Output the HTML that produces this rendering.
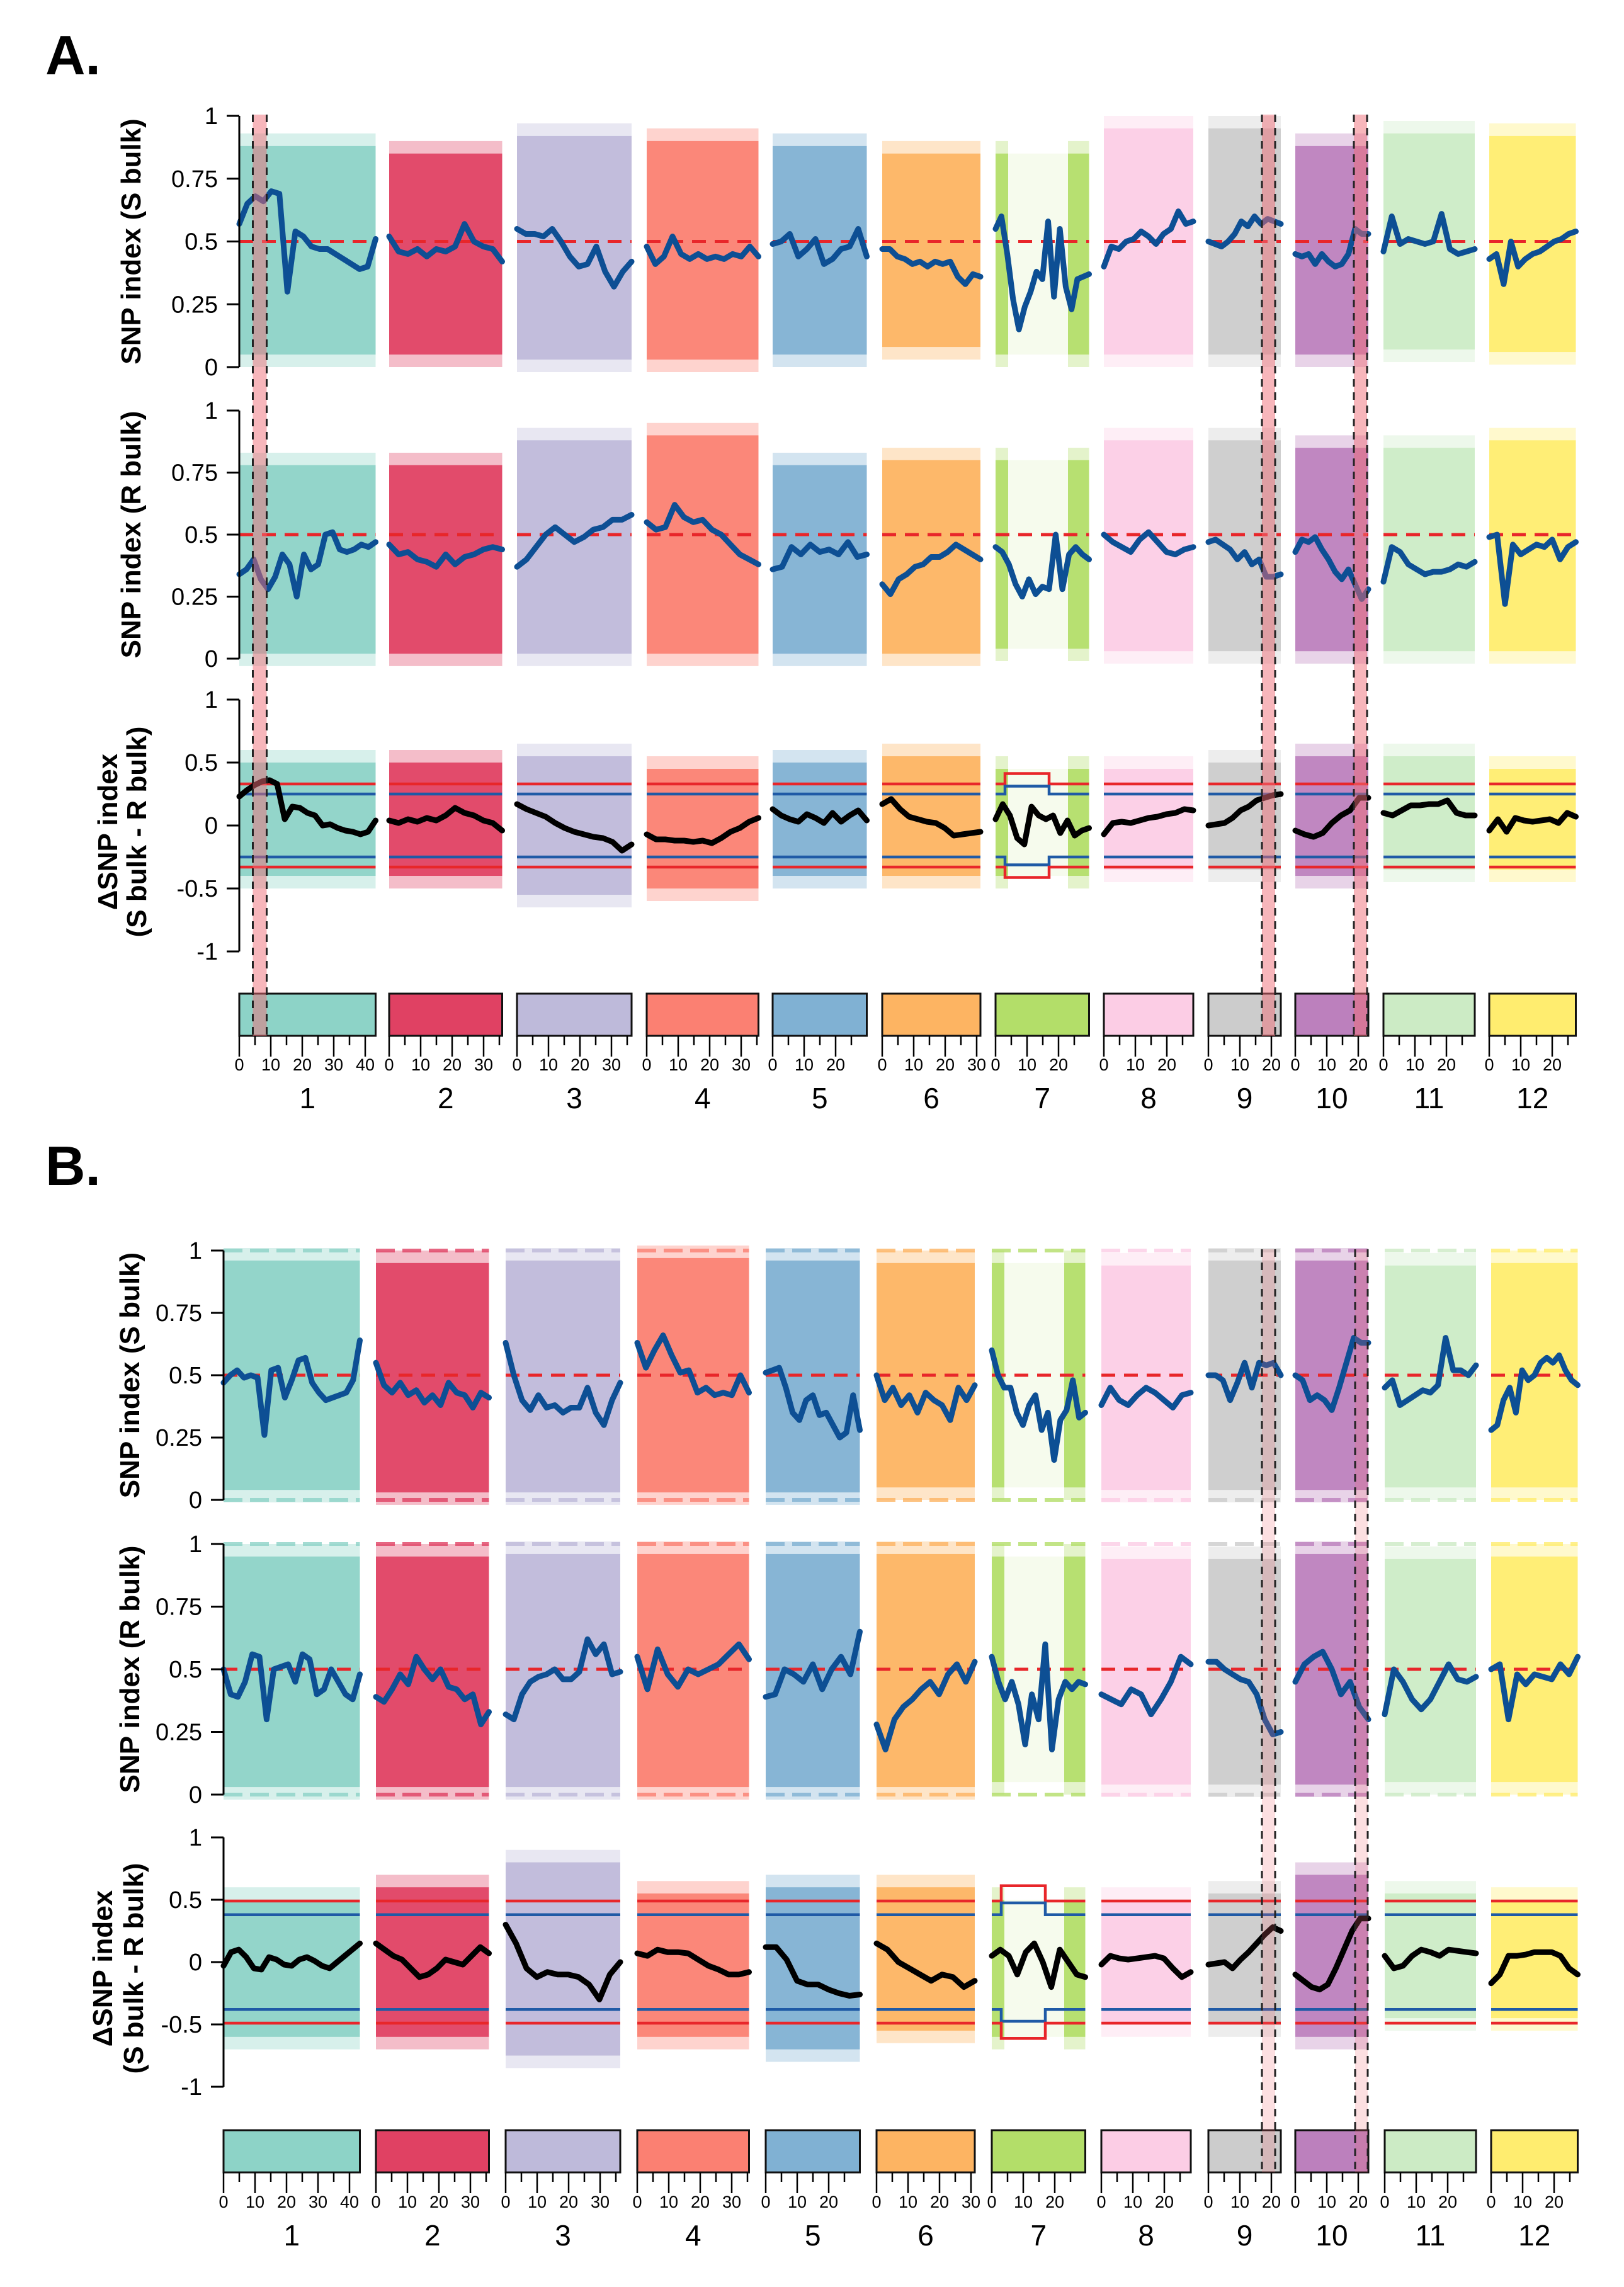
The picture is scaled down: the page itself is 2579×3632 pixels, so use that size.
<!DOCTYPE html>
<html><head><meta charset="utf-8"><title>SNP index plots</title>
<style>
html,body{margin:0;padding:0;background:#fff;}
svg{display:block;font-family:"Liberation Sans",Arial,sans-serif;}
</style></head>
<body>
<svg id="fig" xmlns="http://www.w3.org/2000/svg" width="2579" height="3632" viewBox="0 0 2579 3632">
<rect width="2579" height="3632" fill="#fff"/>
<text x="72" y="118" font-size="88" font-weight="bold">A.</text>
<text x="72" y="1882" font-size="88" font-weight="bold">B.</text>
<g id="root"></g>
</svg>
<script>
// ---- data ----
const chromNames = ['1','2','3','4','5','6','7','8','9','10','11','12'];
const chromLen = [43.3,35.9,36.4,35.5,29.9,31.2,29.7,28.4,23.0,23.2,29.0,27.5];
const chromColors = ['#8dd3c7','#e04163','#bebada','#fb8072','#80b1d3','#fdb462','#b3de69','#fccde5','#cccccc','#bc80bd','#ccebc5','#ffed6f'];
const sizeTicks = [0,10,20,30,40];
const snpTicks = ['0','0.25','0.5','0.75','1'];
const snpTickVals = [0,0.25,0.5,0.75,1];
const deltaTicks = ['-1','-0.5','0','0.5','1'];
const deltaTickVals = [-1,-0.5,0,0.5,1];
const chr7Gap = [4,23];

const aS = [
[0.57,0.65,0.68,0.66,0.70,0.69,0.30,0.54,0.52,0.48,0.47,0.47,0.45,0.43,0.41,0.39,0.40,0.51],
[0.52,0.46,0.45,0.47,0.44,0.47,0.46,0.48,0.57,0.50,0.48,0.47,0.42],
[0.55,0.53,0.53,0.52,0.55,0.50,0.44,0.40,0.41,0.48,0.38,0.32,0.38,0.42],
[0.48,0.41,0.44,0.52,0.45,0.43,0.45,0.43,0.44,0.43,0.45,0.44,0.48,0.44],
[0.49,0.50,0.53,0.44,0.47,0.51,0.41,0.43,0.47,0.48,0.55,0.44],
[0.47,0.47,0.44,0.43,0.41,0.42,0.40,0.42,0.41,0.42,0.36,0.33,0.37,0.36],
[0.55,0.60,0.45,0.27,0.15,0.24,0.30,0.38,0.35,0.58,0.28,0.55,0.32,0.23,0.35,0.36,0.37],
[0.40,0.48,0.47,0.50,0.51,0.54,0.52,0.49,0.53,0.55,0.62,0.57,0.58],
[0.50,0.49,0.48,0.50,0.53,0.58,0.56,0.60,0.57,0.59,0.58,0.57],
[0.45,0.44,0.45,0.41,0.45,0.42,0.40,0.41,0.45,0.55,0.53,0.53],
[0.46,0.60,0.49,0.51,0.50,0.49,0.50,0.61,0.47,0.45,0.46,0.47],
[0.43,0.45,0.33,0.50,0.40,0.43,0.45,0.46,0.48,0.50,0.51,0.53,0.54]];
const aR = [
[0.34,0.36,0.40,0.32,0.28,0.33,0.42,0.38,0.25,0.42,0.36,0.38,0.50,0.51,0.44,0.43,0.44,0.46,0.45,0.47],
[0.46,0.42,0.43,0.40,0.39,0.37,0.42,0.38,0.41,0.42,0.44,0.45,0.44],
[0.37,0.40,0.45,0.50,0.53,0.50,0.47,0.49,0.52,0.53,0.56,0.56,0.58],
[0.55,0.52,0.53,0.62,0.57,0.55,0.56,0.52,0.50,0.46,0.42,0.40,0.38],
[0.36,0.37,0.45,0.42,0.46,0.43,0.44,0.42,0.47,0.41,0.42],
[0.30,0.26,0.32,0.34,0.37,0.38,0.41,0.41,0.43,0.46,0.44,0.42,0.40],
[0.45,0.43,0.38,0.30,0.25,0.32,0.26,0.29,0.28,0.50,0.28,0.42,0.45,0.42,0.40],
[0.50,0.47,0.45,0.43,0.48,0.51,0.47,0.43,0.42,0.44,0.45],
[0.47,0.48,0.46,0.44,0.40,0.43,0.38,0.40,0.33,0.33,0.34],
[0.43,0.48,0.47,0.49,0.44,0.40,0.35,0.32,0.36,0.30,0.24,0.28],
[0.31,0.45,0.43,0.38,0.36,0.34,0.35,0.35,0.36,0.38,0.37,0.39],
[0.49,0.50,0.22,0.46,0.42,0.44,0.46,0.45,0.48,0.40,0.45,0.47]];
const aD = [
[0.23,0.28,0.32,0.35,0.36,0.33,0.05,0.15,0.14,0.10,0.08,0.00,0.01,-0.02,-0.04,-0.05,-0.07,-0.05,0.04],
[0.04,0.02,0.05,0.03,0.06,0.04,0.08,0.14,0.10,0.08,0.04,0.02,-0.04],
[0.17,0.13,0.10,0.07,0.02,-0.02,-0.05,-0.07,-0.09,-0.10,-0.13,-0.20,-0.15],
[-0.07,-0.11,-0.11,-0.12,-0.12,-0.13,-0.12,-0.14,-0.10,-0.05,-0.02,0.03,0.06],
[0.13,0.08,0.05,0.03,0.09,0.06,0.02,0.10,0.03,0.08,0.12,0.04],
[0.17,0.21,0.13,0.07,0.05,0.03,0.02,-0.02,-0.08,-0.07,-0.06,-0.05],
[0.05,0.17,0.08,-0.10,-0.15,0.15,0.08,0.05,0.08,-0.06,0.04,-0.08,-0.04,-0.02],
[-0.07,0.02,0.03,0.02,0.04,0.06,0.07,0.09,0.10,0.13,0.12],
[0.00,0.01,0.02,0.06,0.12,0.15,0.20,0.22,0.24,0.25],
[-0.04,-0.07,-0.09,-0.06,0.02,0.08,0.12,0.22,0.22],
[0.10,0.08,0.12,0.16,0.16,0.17,0.17,0.20,0.10,0.08,0.08],
[-0.04,0.05,-0.05,0.06,0.04,0.03,0.04,0.05,0.02,0.10,0.07]];
const bS = [
[0.47,0.50,0.52,0.49,0.50,0.49,0.26,0.52,0.53,0.41,0.48,0.56,0.57,0.47,0.43,0.40,0.41,0.42,0.43,0.48,0.64],
[0.55,0.46,0.43,0.47,0.42,0.44,0.39,0.42,0.38,0.47,0.43,0.42,0.37,0.43,0.41],
[0.63,0.50,0.40,0.36,0.42,0.37,0.38,0.35,0.37,0.37,0.45,0.35,0.30,0.40,0.47],
[0.63,0.53,0.60,0.66,0.58,0.51,0.52,0.43,0.45,0.42,0.43,0.42,0.50,0.43],
[0.51,0.52,0.53,0.45,0.35,0.32,0.40,0.42,0.34,0.35,0.30,0.25,0.27,0.42,0.28],
[0.50,0.40,0.45,0.38,0.42,0.35,0.43,0.40,0.38,0.32,0.45,0.40,0.46],
[0.60,0.50,0.45,0.45,0.35,0.30,0.38,0.42,0.28,0.35,0.16,0.32,0.36,0.48,0.33,0.35],
[0.38,0.45,0.40,0.38,0.42,0.45,0.43,0.40,0.37,0.42,0.43],
[0.50,0.50,0.48,0.40,0.47,0.55,0.45,0.55,0.54,0.55,0.50],
[0.50,0.48,0.40,0.42,0.40,0.36,0.45,0.55,0.65,0.63,0.63],
[0.45,0.48,0.38,0.40,0.42,0.44,0.43,0.46,0.65,0.52,0.52,0.50,0.54],
[0.28,0.30,0.40,0.45,0.35,0.52,0.48,0.50,0.55,0.57,0.55,0.58,0.52,0.48,0.46]];
const bR = [
[0.50,0.40,0.39,0.45,0.56,0.55,0.30,0.50,0.51,0.52,0.45,0.56,0.54,0.40,0.42,0.50,0.45,0.40,0.38,0.48],
[0.39,0.37,0.42,0.48,0.44,0.55,0.50,0.46,0.50,0.43,0.42,0.38,0.40,0.28,0.33],
[0.32,0.30,0.40,0.45,0.47,0.48,0.50,0.46,0.46,0.49,0.62,0.56,0.60,0.48,0.49],
[0.55,0.42,0.58,0.48,0.43,0.50,0.48,0.50,0.52,0.56,0.60,0.54],
[0.39,0.40,0.50,0.48,0.45,0.52,0.42,0.50,0.55,0.48,0.65],
[0.28,0.18,0.30,0.35,0.38,0.42,0.45,0.40,0.48,0.52,0.45,0.53],
[0.55,0.45,0.38,0.45,0.36,0.20,0.40,0.30,0.60,0.18,0.38,0.45,0.42,0.45,0.44],
[0.40,0.38,0.36,0.42,0.40,0.32,0.38,0.45,0.55,0.52],
[0.53,0.53,0.50,0.48,0.46,0.45,0.40,0.30,0.24,0.25],
[0.45,0.52,0.55,0.57,0.50,0.40,0.45,0.35,0.30],
[0.32,0.50,0.45,0.38,0.34,0.38,0.45,0.52,0.46,0.45,0.47],
[0.50,0.52,0.30,0.48,0.44,0.48,0.47,0.46,0.52,0.48,0.55]];
const bD = [
[-0.03,0.08,0.10,0.04,-0.05,-0.06,0.04,0.02,-0.02,-0.03,0.02,0.04,0.01,-0.03,-0.05,0.00,0.05,0.10,0.15],
[0.15,0.10,0.05,0.02,-0.05,-0.12,-0.10,-0.05,0.02,0.00,-0.02,0.05,0.12,0.07],
[0.30,0.15,-0.05,-0.12,-0.08,-0.10,-0.10,-0.12,-0.18,-0.30,-0.10,0.00],
[0.07,0.05,0.10,0.08,0.08,0.07,0.02,-0.03,-0.06,-0.10,-0.10,-0.08],
[0.12,0.12,0.02,-0.15,-0.18,-0.18,-0.22,-0.25,-0.27,-0.26],
[0.15,0.10,0.00,-0.05,-0.10,-0.15,-0.10,-0.12,-0.20,-0.15],
[0.05,0.10,0.05,-0.10,0.08,0.15,0.00,-0.20,0.10,0.00,-0.10,-0.12],
[-0.02,0.05,0.03,0.02,0.03,0.04,0.05,0.03,-0.05,-0.12,-0.08],
[-0.02,-0.01,0.00,-0.05,0.02,0.08,0.15,0.22,0.28,0.25],
[-0.10,-0.15,-0.20,-0.22,-0.18,-0.05,0.10,0.25,0.35,0.35],
[0.05,-0.05,-0.03,0.05,0.10,0.08,0.05,0.10,0.09,0.08,0.07],
[-0.17,-0.10,0.05,0.05,0.06,0.08,0.08,0.08,0.05,-0.05,-0.10]];

const aSTop = [0.88,0.85,0.92,0.90,0.88,0.85,0.85,0.95,0.95,0.88,0.93,0.92];
const aSBot = [0.05,0.05,0.03,0.03,0.05,0.08,0.05,0.05,0.05,0.05,0.07,0.06];
const aRTop = [0.78,0.78,0.88,0.90,0.78,0.80,0.80,0.88,0.88,0.85,0.85,0.88];
const aRBot = [0.02,0.02,0.02,0.02,0.02,0.02,0.04,0.03,0.03,0.03,0.03,0.03];
const aDTop = [0.50,0.50,0.55,0.45,0.50,0.55,0.45,0.45,0.50,0.55,0.55,0.45];
const aDBot = [-0.40,-0.40,-0.55,-0.50,-0.40,-0.40,-0.40,-0.35,-0.35,-0.40,-0.35,-0.35];
const bSTop = [0.96,0.95,0.96,0.97,0.96,0.95,0.95,0.94,0.96,0.96,0.94,0.95];
const bSBot = [0.04,0.03,0.03,0.03,0.03,0.05,0.05,0.04,0.04,0.04,0.05,0.05];
const bRTop = [0.95,0.95,0.96,0.96,0.96,0.96,0.95,0.94,0.94,0.96,0.94,0.95];
const bRBot = [0.03,0.03,0.03,0.03,0.03,0.03,0.05,0.04,0.04,0.04,0.05,0.05];
const bDTop = [0.50,0.60,0.80,0.55,0.60,0.60,0.50,0.50,0.55,0.70,0.55,0.50];
const bDBot = [-0.60,-0.60,-0.75,-0.60,-0.70,-0.55,-0.60,-0.50,-0.50,-0.60,-0.45,-0.45];

const aThrRed = 0.33, aThrBlue = 0.25;
const bThrRed = 0.49, bThrBlue = 0.38;
const chr7ThrBoost = 1.25;

const aHighlights = [[0,4.3,8.7],[8,17.0,21.2],[9,18.6,22.8]];
const bHighlights = [[8,17.0,21.2],[9,19.0,23.0]];

// ---- layout ----
const NS = 'http://www.w3.org/2000/svg';
const root = document.getElementById('root');
const PXMB = 5.0;
function mk(tag, attrs, parent){
  const e = document.createElementNS(NS, tag);
  for (const k in attrs) e.setAttribute(k, attrs[k]);
  (parent||root).appendChild(e);
  return e;
}

const layouts = [
 {key:'a', axisX:380, starts:[380,618,821,1027,1227,1401,1581,1753,1919,2057,2197,2365],
  panels:[[184,583],[652,1046],[1111,1511]], box:[1578,1645], tickLab:1700, num:1760,
  S:aS,R:aR,D:aD, tops:[aSTop,aRTop,aDTop], bots:[aSBot,aRBot,aDBot], red:aThrRed, blue:aThrBlue,
  hl:aHighlights, hlTop:182, hlFill:'rgba(240,110,120,0.5)', titleX:[207,207,170,216], edgeRows:false},
 {key:'b', axisX:355, starts:[355,597,803,1012,1216,1392,1575,1749,1919,2057,2199,2368],
  panels:[[1986,2382],[2452,2850],[2918,3314]], box:[3383,3450], tickLab:3506, num:3566,
  S:bS,R:bR,D:bD, tops:[bSTop,bRTop,bDTop], bots:[bSBot,bRBot,bDBot], red:bThrRed, blue:bThrBlue,
  hl:bHighlights, hlTop:1984, hlFill:'rgba(240,110,120,0.22)', titleX:[205,205,162,211], edgeRows:true}
];

layouts.forEach(L=>{
  const g = mk('g',{});
  
  
  const ranges = [[0,1],[0,1],[-1,1]];
  const series = [L.S, L.R, L.D];
  const names = ['s-bulk','r-bulk','delta'];
  L.panels.forEach((P,pi)=>{
    const [yTopPx,yBotPx] = P; const [lo,hi] = ranges[pi];
    const yv = v => yBotPx - (v-lo)/(hi-lo)*(yBotPx-yTopPx);
    const pg = mk('g',{},g);
    
    
    chromLen.forEach((len,ci)=>{
      const x0 = L.starts[ci], x1 = x0+len*PXMB;
      const top = yv(L.tops[pi][ci]), bot = yv(L.bots[pi][ci]);
      const fringe = (yBotPx-yTopPx)*0.05;
      const segs = ci===6 ? [[0,chr7Gap[0]],[chr7Gap[1],len]] : [[0,len]];
      segs.forEach(s=>{
        const fr = mk('rect',{x:x0+s[0]*PXMB, y:top-fringe, width:(s[1]-s[0])*PXMB, height:bot-top+2*fringe, fill:chromColors[ci], opacity:0.35},pg);
        
        
        const r = mk('rect',{x:x0+s[0]*PXMB, y:top, width:(s[1]-s[0])*PXMB, height:bot-top, fill:chromColors[ci], opacity:0.92},pg);
        
        
      });
      if (ci===6){
        const r = mk('rect',{x:x0+chr7Gap[0]*PXMB, y:top, width:(chr7Gap[1]-chr7Gap[0])*PXMB, height:bot-top, fill:chromColors[ci], opacity:0.12},pg);
        
        
      }
      if (L.edgeRows && pi<2){
        [0,1].forEach(v=>{
          const er = mk('line',{x1:x0,x2:x1,y1:yv(v),y2:yv(v),stroke:chromColors[ci],'stroke-width':6,'stroke-dasharray':'30 12',opacity:0.8},pg);
          
          
        });
      }
      if (pi<2){
        const d = mk('line',{x1:x0,x2:x1,y1:yv(0.5),y2:yv(0.5),stroke:'#e8262a','stroke-width':5,'stroke-dasharray':'22 14'},pg);
        
        
      } else {
        [[L.red,'#e8262a'],[L.blue,'#1f5aa6'],[-L.blue,'#1f5aa6'],[-L.red,'#e8262a']].forEach(([t,c])=>{
          let pts;
          if (ci===6){
            const a=x0+3*PXMB, b=x0+17*PXMB;
            pts = [[x0,t],[a,t],[a,t*chr7ThrBoost],[b,t*chr7ThrBoost],[b,t],[x1,t]];
          } else pts=[[x0,t],[x1,t]];
          const th = mk('polyline',{points:pts.map(p=>p[0]+','+yv(p[1])).join(' '),fill:'none',stroke:c,'stroke-width':4.5},pg);
          
          
        });
      }
      const vals = series[pi][ci];
      const pts = vals.map((v,i)=> (x0 + i/(vals.length-1)*len*PXMB).toFixed(1)+','+yv(v).toFixed(1)).join(' ');
      const ln = mk('polyline',{points:pts,fill:'none',stroke:pi<2?'#0d4f94':'#000','stroke-width':9,'stroke-linejoin':'round','stroke-linecap':'round'},pg);
      
      
    });
    const ax = mk('line',{x1:L.axisX,x2:L.axisX,y1:yTopPx,y2:yBotPx,stroke:'#000','stroke-width':3},pg);
    
    
    const tv = pi<2?snpTickVals:deltaTickVals, tl = pi<2?snpTicks:deltaTicks;
    tv.forEach((v,i)=>{
      const t = mk('line',{x1:L.axisX-20,x2:L.axisX,y1:yv(v),y2:yv(v),stroke:'#000','stroke-width':3},pg);
      
      
      const tx = mk('text',{x:L.axisX-34,y:yv(v)+13,'text-anchor':'end','font-size':38},pg);
      
      
      tx.textContent = tl[i];
    });
    const cy = (yTopPx+yBotPx)/2;
    if (pi<2){
      const tt = mk('text',{x:0,y:0,transform:`translate(${L.titleX[pi]+16},${cy}) rotate(-90)`,'text-anchor':'middle','font-size':44,'font-weight':'bold'},pg);
      
      
      tt.textContent = pi===0?'SNP index (S bulk)':'SNP index (R bulk)';
    } else {
      const t1 = mk('text',{x:0,y:0,transform:`translate(${L.titleX[2]+16},${cy+10}) rotate(-90)`,'text-anchor':'middle','font-size':44,'font-weight':'bold'},pg);
      
      
      t1.textContent = '\u0394SNP index';
      const t2 = mk('text',{x:0,y:0,transform:`translate(${L.titleX[3]+16},${cy+10}) rotate(-90)`,'text-anchor':'middle','font-size':44,'font-weight':'bold'},pg);
      
      
      t2.textContent = '(S bulk - R bulk)';
    }
  });
  chromLen.forEach((len,ci)=>{
    const x0=L.starts[ci], w=len*PXMB;
    const b = mk('rect',{x:x0,y:L.box[0],width:w,height:L.box[1]-L.box[0],fill:chromColors[ci],stroke:'#111','stroke-width':3},g);
    
    
    for (let m=0;m<=len;m+=5){
      const major = m%10===0;
      const t = mk('line',{x1:x0+m*PXMB,x2:x0+m*PXMB,y1:L.box[1],y2:L.box[1]+(major?33:15),stroke:'#000','stroke-width':2.5},g);
      
      
    }
    sizeTicks.filter(v=>v<=len).forEach(v=>{
      const tx = mk('text',{x:x0+v*PXMB,y:L.tickLab,'text-anchor':'middle','font-size':27},g);
      
      
      tx.textContent = v;
    });
    const n = mk('text',{x:x0+w/2,y:L.num,'text-anchor':'middle','font-size':46},g);
    
    
    n.textContent = chromNames[ci];
  });
  L.hl.forEach(([ci,a,b])=>{
    const xa=L.starts[ci]+a*PXMB, xb=L.starts[ci]+b*PXMB;
    const r = mk('rect',{x:xa,y:L.hlTop,width:xb-xa,height:L.box[1]-L.hlTop,fill:L.hlFill},g);
    
    
    [xa,xb].forEach(x=>{
      const d = mk('line',{x1:x,x2:x,y1:L.hlTop,y2:L.box[1],stroke:'#222','stroke-width':3,'stroke-dasharray':'12 9'},g);
      
      
    });
  });
});
</script>
</body></html>
